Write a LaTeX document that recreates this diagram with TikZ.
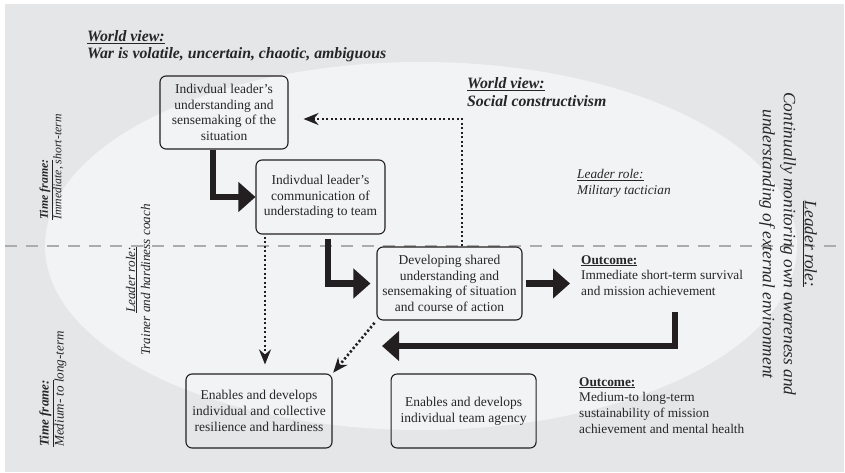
\documentclass[tikz,border=0pt]{standalone}
\usepackage{fontspec}
\setmainfont{Liberation Serif}
\usetikzlibrary{arrows.meta}
\usetikzlibrary{positioning}
\definecolor{bggray}{HTML}{E5E6E8}
\definecolor{ellgray}{HTML}{F2F3F5}
\definecolor{ink}{HTML}{231F20}

\begin{document}
\begin{tikzpicture}[x=1pt,y=-1pt,
  stage/.style={draw=ink, rounded corners=6pt, line width=1.1pt, align=center, inner sep=2pt, text=black!85, font=\fontsize{13.5}{15.7}\selectfont},
  flow/.style={line width=6.5pt, draw=ink, -{Triangle[length=17pt,width=29pt]}},
  link/.style={line width=2.6pt, draw=ink, dash pattern=on 2.2pt off 2.3pt, -{Stealth[length=15pt,width=12pt,inset=5pt]}},
  remark/.style={inner sep=0pt, align=left, text=black!85, font=\fontsize{13.3}{15.8}\selectfont}]
\useasboundingbox (0,0) rectangle (845,473);
\fill[bggray] (5,4) rectangle (844,472);
\fill[ellgray] (421,246) ellipse [x radius=376pt, y radius=184pt];
\draw[gray!65, line width=2.5pt, dash pattern=on 12pt off 9pt] (5,246) -- (845,246);

\node (sense) [stage, minimum width=128pt, minimum height=73pt] at (224,112.5) {Indivdual leader's\\understanding and\\sensemaking of the\\situation};
\node (comm) [stage, minimum width=129pt, minimum height=74pt] at (320.5,197) {Indivdual leader's\\communication of\\understading to team};
\node (shared) [stage, minimum width=145pt, minimum height=73pt] at (449.5,283.5) {Developing shared\\understanding and\\sensemaking of situation\\and course of action};
\node (resil) [stage, minimum width=146pt, minimum height=74pt] at (259,411) {Enables and develops\\individual and collective\\resilience and hardiness};
\node (agency) [stage, minimum width=145pt, minimum height=74pt, right=58pt of resil] {Enables and develops\\individual team agency};

\node (view1) [remark, anchor=north west, font=\bfseries\itshape\fontsize{15.8}{17.5}\selectfont] at (87,30) {\underline{World view:}\\War is volatile, uncertain, chaotic, ambiguous};
\node (view2) [remark, anchor=north west, font=\bfseries\itshape\fontsize{15.8}{18}\selectfont] at (467,77) {\underline{World view:}\\Social constructivism};
\node (role1) [remark, anchor=north west, font=\itshape\fontsize{13.3}{15.8}\selectfont] at (577,169) {\underline{Leader role:}\\Military tactician};
\node (out1) [remark, anchor=north west] at (581,255) {\textbf{\underline{Outcome:}}\\Immediate short-term survival\\and mission achievement};
\node (out2) [remark, anchor=north west] at (579,377) {\textbf{\underline{Outcome:}}\\Medium-to long-term\\sustainability of mission\\achievement and mental health};

\node (time1) [remark, rotate=90, anchor=west, font=\itshape\fontsize{11.8}{13.5}\selectfont] at (51.5,220) {\textbf{\underline{Time frame:}}\\Immediate, short-term};
\node (time2) [remark, rotate=90, anchor=west, font=\itshape\fontsize{13.1}{15}\selectfont] at (53,447) {\textbf{\underline{Time frame:}}\\Medium- to long-term};
\node (role2) [remark, rotate=90, align=center, font=\itshape\fontsize{13.2}{15}\selectfont] at (138,280) {\underline{Leader role:}\\Trainer and hardiness coach};
\node (role3) [remark, rotate=-90, align=center, font=\itshape\fontsize{17.3}{21}\selectfont] at (788,244) {\underline{Leader role:}\\Continually monitoring own awareness and\\understanding of external environment};

\coordinate (turn) at (675,312);
\coordinate (back) at (382,346);

\draw[flow] ([xshift=-11pt]sense.south) |- (comm.west);
\draw[flow, shorten <=4pt, shorten >=6pt] ([xshift=7.5pt]comm.south) |- (shared.west);
\draw[flow, shorten <=3pt, shorten >=11pt] (shared.east) -- (shared.east -| out1.west);
\draw[flow] (turn) |- (back);

\draw[link, shorten >=15pt] ([xshift=12.5pt]shared.north) |- ([yshift=-6.5pt]sense.east);
\draw[link, shorten <=2pt, shorten >=9pt] ([xshift=-55.5pt]comm.south) -- ([xshift=6pt]resil.north);
\draw[link, shorten <=3pt, shorten >=1pt] (shared.south west) -- (resil.north east);
\end{tikzpicture}
\end{document}
